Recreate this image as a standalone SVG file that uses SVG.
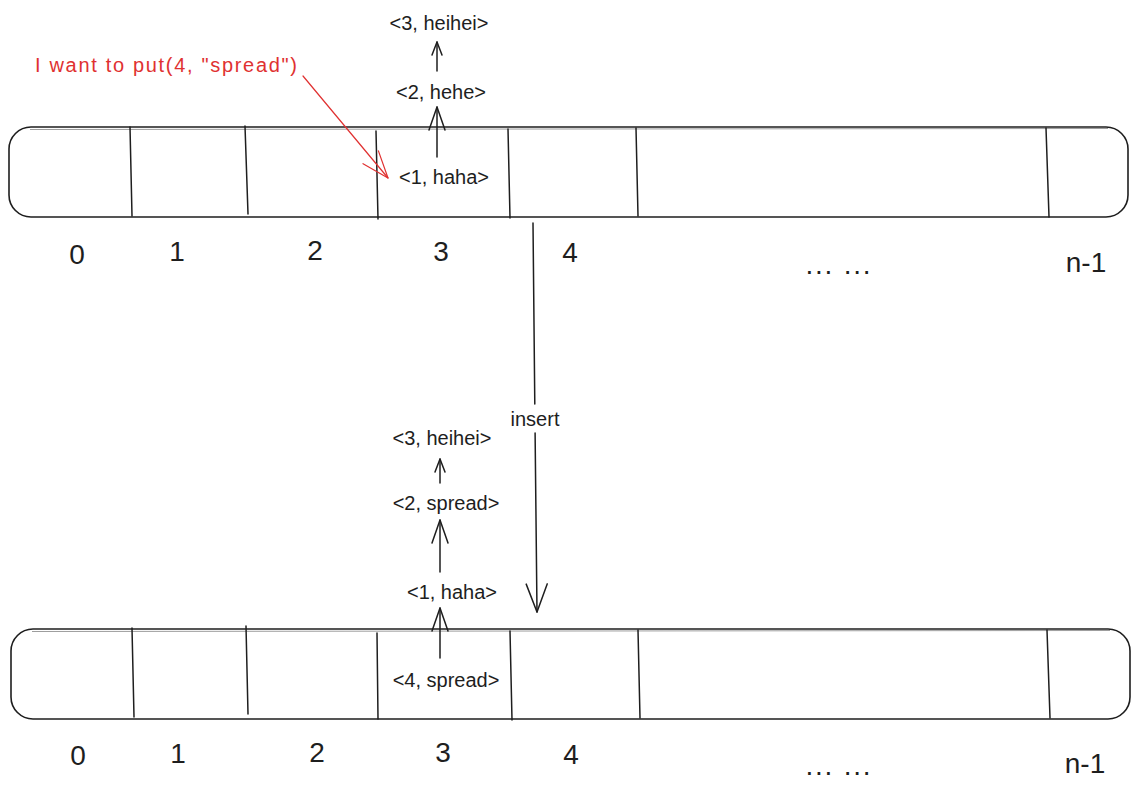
<svg xmlns="http://www.w3.org/2000/svg" width="1139" height="796" viewBox="0 0 1139 796">
<style>
.box{fill:none;stroke:#1e1e1e;stroke-width:1.6;}
.box2{fill:none;stroke:#1e1e1e;stroke-width:0.8;opacity:0.55;}
.div{stroke:#1e1e1e;stroke-width:1.5;stroke-linecap:round;}
.lbl{font-family:"Liberation Sans",Arial,sans-serif;font-size:20px;fill:#1e1e1e;text-anchor:middle;}
.idx{font-family:"Liberation Sans",Arial,sans-serif;font-size:28px;fill:#1e1e1e;text-anchor:middle;}
.red{font-family:"Liberation Sans",Arial,sans-serif;font-size:20px;fill:#e03131;}
.con{fill:none;stroke:#1e1e1e;stroke-width:1.5;stroke-linecap:round;}
.conr{fill:none;stroke:#e03131;stroke-width:1.2;stroke-linecap:round;}
</style>
<defs>
<marker id="ahS" markerUnits="userSpaceOnUse" viewBox="0 0 16 12" refX="14" refY="6" markerWidth="16" markerHeight="12" orient="auto" overflow="visible"><path d="M1 1 L14 6 L1 11" fill="none" stroke="#1e1e1e" stroke-width="1.5" stroke-linecap="round" stroke-linejoin="round"/></marker>
<marker id="ahM" markerUnits="userSpaceOnUse" viewBox="0 0 26 18" refX="24" refY="9" markerWidth="26" markerHeight="18" orient="auto" overflow="visible"><path d="M1 1 L24 9 L1 17" fill="none" stroke="#1e1e1e" stroke-width="1.5" stroke-linecap="round" stroke-linejoin="round"/></marker>
<marker id="ahL" markerUnits="userSpaceOnUse" viewBox="0 0 32 24" refX="30" refY="12" markerWidth="32" markerHeight="24" orient="auto" overflow="visible"><path d="M2 1.5 L30 12 L2 22.5" fill="none" stroke="#1e1e1e" stroke-width="1.5" stroke-linecap="round" stroke-linejoin="round"/></marker>
<marker id="ahR" markerUnits="userSpaceOnUse" viewBox="0 0 32 24" refX="30" refY="12" markerWidth="32" markerHeight="24" orient="auto" overflow="visible"><path d="M3 2 L30 12 L3 22" fill="none" stroke="#e03131" stroke-width="1.2" stroke-linecap="round" stroke-linejoin="round"/></marker>
</defs>
<rect width="1139" height="796" fill="#ffffff"/>

<g id="top-array">
<rect class="box" x="9" y="127" width="1119" height="90" rx="22"/>
<path class="box2" d="M30 129.5 L1108 128.5"/>
<line class="div" x1="130" y1="127" x2="132" y2="216"/>
<line class="div" x1="245" y1="126" x2="248" y2="214"/>
<line class="div" x1="376" y1="131" x2="378" y2="219"/>
<line class="div" x1="508" y1="129" x2="510" y2="218"/>
<line class="div" x1="636" y1="128" x2="638" y2="216"/>
<line class="div" x1="1046" y1="128" x2="1049" y2="217"/>
</g>

<g id="top-indices">
<text class="idx" x="77" y="264">0</text>
<text class="idx" x="177" y="261">1</text>
<text class="idx" x="315" y="260">2</text>
<text class="idx" x="441" y="261">3</text>
<text class="idx" x="570" y="262">4</text>
<text class="idx" x="838" y="274" textLength="65">... ...</text>
<text class="idx" x="1086" y="272">n-1</text>
</g>

<g id="top-n3"><text class="lbl" x="439" y="30">&lt;3, heihei&gt;</text></g>
<g id="top-n2"><text class="lbl" x="441" y="99">&lt;2, hehe&gt;</text></g>
<g id="top-n1"><text class="lbl" x="444" y="184">&lt;1, haha&gt;</text></g>

<g id="note"><text class="red" x="35" y="72" textLength="262">I want to put(4, "spread")</text></g>

<g id="bottom-array">
<rect class="box" x="11" y="629" width="1119" height="90" rx="22"/>
<path class="box2" d="M32 631.5 L1110 630.5"/>
<line class="div" x1="132" y1="628" x2="134" y2="717"/>
<line class="div" x1="246" y1="626" x2="248" y2="714"/>
<line class="div" x1="377" y1="633" x2="378" y2="719"/>
<line class="div" x1="510" y1="631" x2="512" y2="720"/>
<line class="div" x1="638" y1="630" x2="640" y2="718"/>
<line class="div" x1="1047" y1="630" x2="1050" y2="718"/>
</g>

<g id="bottom-indices">
<text class="idx" x="78" y="765">0</text>
<text class="idx" x="178" y="763">1</text>
<text class="idx" x="317" y="762">2</text>
<text class="idx" x="443" y="762">3</text>
<text class="idx" x="571" y="764">4</text>
<text class="idx" x="838" y="775" textLength="65">... ...</text>
<text class="idx" x="1085" y="773">n-1</text>
</g>

<g id="bot-n3"><text class="lbl" x="442" y="445">&lt;3, heihei&gt;</text></g>
<g id="bot-n2"><text class="lbl" x="446" y="510">&lt;2, spread&gt;</text></g>
<g id="bot-n1"><text class="lbl" x="452" y="599">&lt;1, haha&gt;</text></g>
<g id="bot-n4"><text class="lbl" x="446" y="687">&lt;4, spread&gt;</text></g>

<g id="connectors">
<line class="con" x1="437" y1="71" x2="437" y2="42" marker-end="url(#ahS)"/>
<line class="con" x1="437" y1="157" x2="437" y2="107" marker-end="url(#ahM)"/>
<line class="conr" x1="303" y1="76" x2="388" y2="178" marker-end="url(#ahR)"/>
<line class="con" x1="533" y1="223" x2="534.8" y2="404"/>
<line class="con" x1="535.1" y1="433" x2="537" y2="612" marker-end="url(#ahL)"/>
<text class="lbl" x="535" y="426">insert</text>
<line class="con" x1="440" y1="483" x2="440" y2="459" marker-end="url(#ahS)"/>
<line class="con" x1="440" y1="572" x2="440" y2="520" marker-end="url(#ahM)"/>
<line class="con" x1="440" y1="658" x2="440" y2="608" marker-end="url(#ahM)"/>
</g>
</svg>
